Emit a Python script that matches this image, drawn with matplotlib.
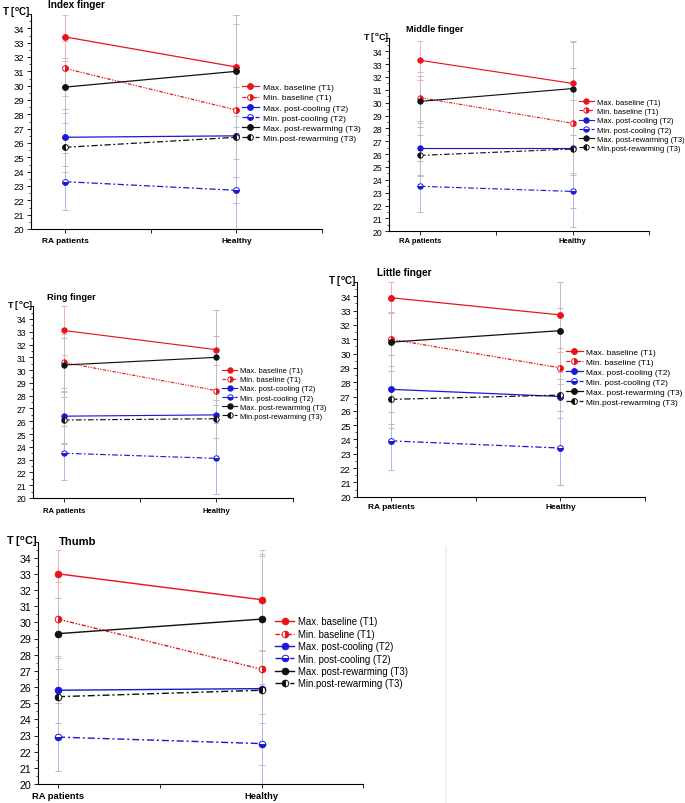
import matplotlib
matplotlib.use("Agg")
import matplotlib.pyplot as plt
from matplotlib.ticker import MultipleLocator, FixedLocator
from matplotlib.lines import Line2D

plt.rcParams['font.family'] = ['Liberation Sans', 'DejaVu Sans']
plt.rcParams['mathtext.fontset'] = 'custom'
plt.rcParams['mathtext.rm'] = 'Liberation Sans'
plt.rcParams['mathtext.bf'] = 'Liberation Sans:bold'

# ---------------- data ----------------
fingers = ["Index finger", "Middle finger", "Ring finger", "Little finger", "Thumb"]
groups = ["RA patients", "Healthy"]
series_labels = ["Max. baseline (T1)", "Min. baseline (T1)", "Max. post-cooling (T2)",
                 "Min. post-cooling (T2)", "Max. post-rewarming (T3)", "Min.post-rewarming (T3)"]

# mean temperatures per finger (index, middle, ring, little, thumb)
max_baseline_ra = [33.4, 33.3, 33.1, 33.9, 33.0]
max_baseline_hc = [31.3, 31.5, 31.6, 32.7, 31.4]
min_baseline_ra = [31.2, 30.4, 30.6, 31.0, 30.2]
min_baseline_hc = [28.3, 28.4, 28.4, 29.0, 27.1]
max_cooling_ra = [26.4, 26.5, 26.4, 27.5, 25.8]
max_cooling_hc = [26.5, 26.5, 26.5, 27.0, 25.9]
min_cooling_ra = [23.3, 23.5, 23.5, 23.9, 22.9]
min_cooling_hc = [22.7, 23.1, 23.1, 23.4, 22.5]
max_rewarm_ra = [29.9, 30.1, 30.4, 30.8, 29.3]
max_rewarm_hc = [31.0, 31.1, 31.0, 31.6, 30.2]
min_rewarm_ra = [25.7, 25.9, 26.1, 26.8, 25.4]
min_rewarm_hc = [26.4, 26.4, 26.2, 27.1, 25.8]

# standard deviations
sd_max_baseline_ra = [1.5, 1.5, 1.9, 1.1, 1.5]
sd_max_baseline_hc = [3.0, 3.3, 3.1, 2.3, 3.1]
sd_min_baseline_ra = [1.9, 2.0, 2.2, 1.9, 2.3]
sd_min_baseline_hc = [1.6, 1.8, 2.0, 1.1, 1.1]
sd_max_cooling_ra = [2.0, 2.1, 2.2, 2.4, 2.0]
sd_max_cooling_hc = [8.4, 6.2, 6.2, 6.2, 8.2]
sd_min_cooling_ra = [2.0, 2.0, 2.1, 2.0, 2.1]
sd_min_cooling_hc = [0.9, 1.3, 2.8, 2.6, 1.3]
sd_max_rewarm_ra = [1.8, 2.0, 2.1, 2.0, 2.2]
sd_max_rewarm_hc = [3.9, 3.6, 3.7, 3.4, 4.0]
sd_min_rewarm_ra = [1.7, 1.6, 1.8, 2.0, 2.4]
sd_min_rewarm_hc = [1.5, 1.9, 1.5, 1.6, 1.5]

means = [(max_baseline_ra, max_baseline_hc), (min_baseline_ra, min_baseline_hc),
         (max_cooling_ra, max_cooling_hc), (min_cooling_ra, min_cooling_hc),
         (max_rewarm_ra, max_rewarm_hc), (min_rewarm_ra, min_rewarm_hc)]
sds = [(sd_max_baseline_ra, sd_max_baseline_hc), (sd_min_baseline_ra, sd_min_baseline_hc),
       (sd_max_cooling_ra, sd_max_cooling_hc), (sd_min_cooling_ra, sd_min_cooling_hc),
       (sd_max_rewarm_ra, sd_max_rewarm_hc), (sd_min_rewarm_ra, sd_min_rewarm_hc)]

# ---------------- styles ----------------
RED, BLUE, BLACK = "#e8141b", "#1a1ad6", "#111111"
ERR = ["#f4b0b2", "#f4b0b2", "#b4b4ea", "#b4b4ea", "#bdbdbd", "#bdbdbd"]
colors = [RED, RED, BLUE, BLUE, BLACK, BLACK]
lstyles = ['-', (0, (3, 1.2, 1, 1.2, 1, 1.2)), '-', (0, (5, 2, 1.5, 2)), '-', (0, (5, 2, 1.5, 2))]
fills = ['full', 'right', 'full', 'bottom', 'full', 'left']

W, H = 685, 804
fig = plt.figure(figsize=(W / 100, H / 100), dpi=100)
fig.patch.set_facecolor('white')
PT = 100 / 72.0  # pixels per point


def fx(x):
    return x / W


def fy(y):
    return 1 - y / H


panels = [
    dict(box=(31, 15, 322, 230), xl=0.8, s=1.0, title=(48, 5), ylab=(30, 13),
         leg=(242, 84.5), lfs=6.1, xlab=242),
    dict(box=(389.3, 39.4, 649, 232.3), xl=0.8, s=0.92, title=(405.7, 29.5), ylab=(389, 37.5),
         leg=(578.7, 99.5), lfs=5.5, xlab=242.3),
    dict(box=(33.3, 307.2, 292.7, 499), xl=0.8, s=0.92, title=(47, 298), ylab=(33, 306),
         leg=(222, 368), lfs=5.4, xlab=512),
    dict(box=(357.3, 283, 645, 497.7), xl=0.8, s=1.0, title=(376.7, 272.5), ylab=(356, 282),
         leg=(566, 349.5), lfs=6.0, xlab=508),
    dict(box=(37.7, 542.5, 363.3, 785), xl=0.9, s=1.13, title=(58.7, 541.7), ylab=(37, 542),
         leg=(275, 617.5), lfs=6.9, xlab=797),
]

for fi, p in enumerate(panels):
    l, t, r, b = p['box']
    s = p['s']
    ax = fig.add_axes([fx(l), fy(b), fx(r) - fx(l), (b - t) / H])
    ax.set_xlim(p['xl'], 2.5)
    ax.set_ylim(20, 35)
    xs = [1, 2]
    handles = []
    for k in range(6):
        vals = [means[k][0][fi], means[k][1][fi]]
        errs = [sds[k][0][fi], sds[k][1][fi]]
        ax.errorbar(xs, vals, yerr=errs, fmt='none', ecolor=ERR[k], elinewidth=0.7,
                    capsize=2.2 * s, capthick=0.7, zorder=1)
    for k in range(6):
        vals = [means[k][0][fi], means[k][1][fi]]
        ln, = ax.plot(xs, vals, color=colors[k], ls=lstyles[k], lw=0.9 * s,
                      marker='o', ms=4.2 * s, fillstyle=fills[k], markerfacecoloralt='white',
                      mec=colors[k], mew=0.7, label=series_labels[k], zorder=3, clip_on=False)
        handles.append(ln)

    for sp in ['top', 'right']:
        ax.spines[sp].set_visible(False)
    for sp in ['left', 'bottom']:
        ax.spines[sp].set_linewidth(0.8)
    fs = 6.8 * s
    xfs = 6.0 * s
    ax.yaxis.set_major_locator(FixedLocator(list(range(20, 36))))
    ax.set_yticklabels([str(v) for v in range(20, 35)] + [''])
    ax.yaxis.set_minor_locator(MultipleLocator(0.5))
    ax.set_xticks([1, 1.5, 2, 2.5])
    ax.set_xticklabels(['RA patients', '', 'Healthy', ''])
    ax.tick_params(axis='y', which='major', direction='out', length=3, width=0.6,
                   labelsize=fs, pad=1.8)
    ax.tick_params(axis='y', which='minor', direction='out', length=1.6, width=0.5)
    pad_px = (p['xlab'] - b) - 0.5 * xfs * PT - 3 * PT
    ax.tick_params(axis='x', which='major', direction='out', length=3, width=0.6,
                   labelsize=xfs, pad=max(pad_px, 0.5) / PT)
    for lab in ax.get_xticklabels():
        lab.set_fontweight('bold')

    fig.text(fx(p['title'][0]), fy(p['title'][1]), fingers[fi], fontsize=7.2 * s,
             fontweight='bold', ha='left', va='center')
    fig.text(fx(p['ylab'][0]), fy(p['ylab'][1]), r'T [$^{\mathbf{o}}$C]', fontsize=7.0 * s,
             fontweight='bold', ha='right', va='center')

    lx, ly = p['leg']
    ax.legend(handles=handles, loc='upper left', bbox_to_anchor=(fx(lx), fy(ly)),
              bbox_transform=fig.transFigure, frameon=False, fontsize=p['lfs'],
              borderpad=0, borderaxespad=0, handlelength=2.0, handletextpad=0.45,
              labelspacing=0.25, markerscale=1.0)

fig.add_artist(Line2D([fx(446), fx(446)], [fy(548), 0], transform=fig.transFigure,
                      color='#f3f3f3', lw=1.5))

fig.savefig('out.png', dpi=100, facecolor='white')
